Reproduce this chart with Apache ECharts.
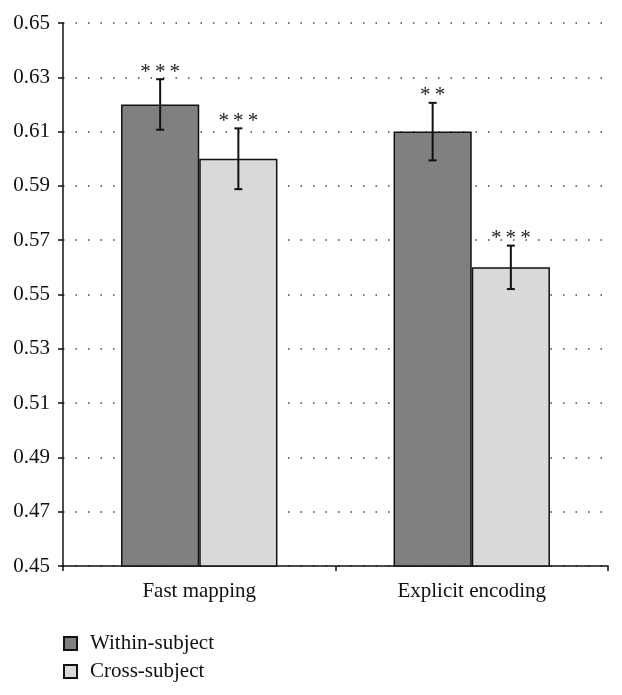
<!DOCTYPE html>
<html>
<head>
<meta charset="utf-8">
<script src="https://cdn.jsdelivr.net/npm/echarts@6/dist/echarts.min.js"></script>
<style>
html,body{margin:0;padding:0;background:#fff;}
#chart{width:622px;height:695px;}
</style>
</head>
<body>
<div id="chart"></div>
<script>
var categories = ['Fast mapping', 'Explicit encoding'];
var seriesNames = ['Within-subject', 'Cross-subject'];
var withinValues = [0.620, 0.610];
var crossValues = [0.600, 0.560];
var withinErrors = [0.0093, 0.0106];
var crossErrors = [0.0112, 0.0080];
var withinStars = ['***', '**'];
var crossStars = ['***', '***'];
var yTicks = { min: 0.45, max: 0.65, step: 0.02 };

var FONT = '"Liberation Serif", "Times New Roman", serif';
var BAR_FRAC = 0.287;
var colors = ['#808080', '#d9d9d9'];

function starText(s) { return s.split('').join('\u2009'); }

function errRender(sign, stars) {
  return function (params, api) {
    var ci = api.value(0), mean = api.value(1), err = api.value(2);
    var band = api.size([1, 0])[0];
    var base = api.coord([ci, mean]);
    var x = base[0] + sign * band * BAR_FRAC / 2;
    var yTop = api.coord([ci, mean + err])[1];
    var yBot = api.coord([ci, mean - err])[1];
    var cap = 4;
    var st = { stroke: '#111', lineWidth: 2 };
    return {
      type: 'group',
      children: [
        { type: 'line', shape: { x1: x, y1: yTop, x2: x, y2: yBot }, style: st },
        { type: 'line', shape: { x1: x - cap, y1: yTop, x2: x + cap, y2: yTop }, style: st },
        { type: 'line', shape: { x1: x - cap, y1: yBot, x2: x + cap, y2: yBot }, style: st },
        { type: 'text', x: x, y: yTop - 7, style: { text: starText(stars[params.dataIndex]), font: '21px ' + FONT, fill: '#222', align: 'center', verticalAlign: 'middle' } }
      ]
    };
  };
}

function errData(vals, errs) {
  return vals.map(function (v, i) { return [i, v, errs[i]]; });
}

var chart = echarts.init(document.getElementById('chart'), null, { renderer: 'canvas' });
chart.setOption({
  animation: false,
  backgroundColor: '#fff',
  grid: { left: 63, right: 14, top: 23, bottom: 129, containLabel: false },
  legend: {
    orient: 'vertical', left: 63, top: 633, padding: 0,
    itemWidth: 13, itemHeight: 13, itemGap: 7,
    icon: 'rect',
    data: seriesNames,
    textStyle: { fontFamily: FONT, fontSize: 21, color: '#111', padding: [0, 0, 0, 8] }
  },
  xAxis: {
    type: 'category', data: categories,
    axisLine: { lineStyle: { color: '#111', width: 1.5 } },
    axisTick: { show: true, length: 5, lineStyle: { color: '#111', width: 1.5 } },
    axisLabel: { fontFamily: FONT, fontSize: 21, color: '#111', margin: 15 }
  },
  yAxis: {
    type: 'value', min: yTicks.min, max: yTicks.max, interval: yTicks.step,
    axisLine: { show: true, lineStyle: { color: '#111', width: 1.5 } },
    axisTick: { show: true, length: 5, lineStyle: { color: '#111', width: 1.5 } },
    axisLabel: { fontFamily: FONT, fontSize: 21, color: '#111', margin: 13, formatter: function (v) { return v.toFixed(2); } },
    splitLine: { show: true, lineStyle: { color: '#444', width: 1.5, type: [1.5, 11] } }
  },
  series: [
    { name: seriesNames[0], type: 'bar', data: withinValues, barWidth: (BAR_FRAC * 100) + '%', barGap: '0%',
      itemStyle: { color: colors[0], borderColor: '#111', borderWidth: 1.5 } },
    { name: seriesNames[1], type: 'bar', data: crossValues, barWidth: (BAR_FRAC * 100) + '%', barGap: '0%',
      itemStyle: { color: colors[1], borderColor: '#111', borderWidth: 1.5 } },
    { type: 'custom', renderItem: errRender(-1, withinStars), data: errData(withinValues, withinErrors), encode: { x: 0, y: 1 }, z: 5 },
    { type: 'custom', renderItem: errRender(1, crossStars), data: errData(crossValues, crossErrors), encode: { x: 0, y: 1 }, z: 5 }
  ]
});
</script>
</body>
</html>
